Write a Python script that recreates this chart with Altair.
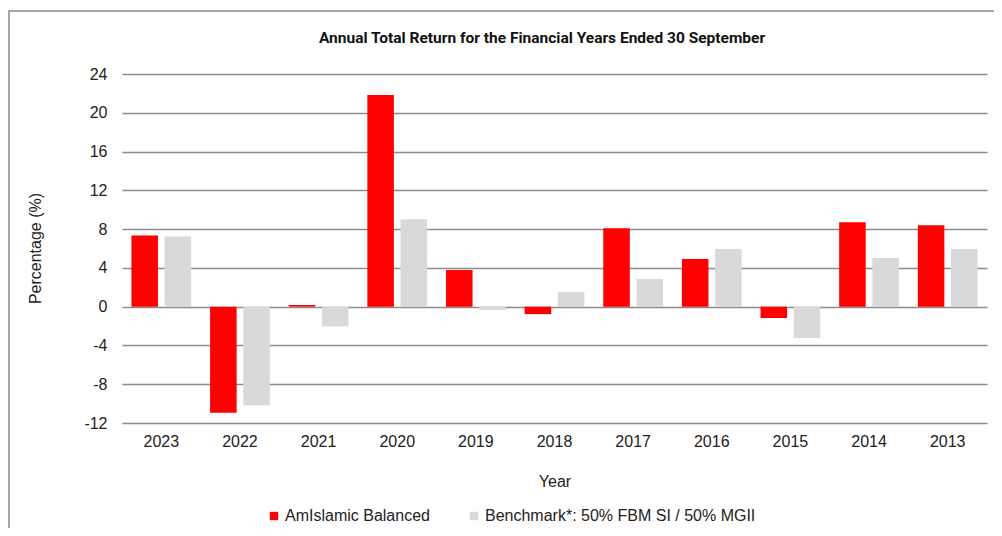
import altair as alt
import pandas as pd

years = ["2023", "2022", "2021", "2020", "2019", "2018", "2017", "2016", "2015", "2014", "2013"]
fund = [7.35, -10.95, 0.17, 21.83, 3.78, -0.77, 8.1, 4.91, -1.17, 8.72, 8.41]
bench = [7.24, -10.16, -2.03, 9.03, -0.34, 1.51, 2.85, 5.94, -3.23, 5.01, 5.94]
series = ["AmIslamic Balanced", "Benchmark*: 50% FBM SI / 50% MGII"]
colors = ["#FF0000", "#D9D9D9"]
yticks = [-12, -8, -4, 0, 4, 8, 12, 16, 20, 24]
title_text = "Annual Total Return for the Financial Years Ended 30 September"

rows = []
for i, y in enumerate(years):
    rows.append({"Year": y, "Series": series[0], "Value": fund[i]})
    rows.append({"Year": y, "Series": series[1], "Value": bench[i]})
df = pd.DataFrame(rows)

FONT = "Liberation Sans"

bars = alt.Chart(df).mark_bar().encode(
    x=alt.X("Year:N", sort=years,
            scale=alt.Scale(paddingInner=0.24, paddingOuter=0.12),
            axis=alt.Axis(title="Year", labelAngle=0, ticks=False, domain=False,
                          labelPadding=10, titlePadding=24, grid=False)),
    xOffset=alt.XOffset("Series:N", sort=series, scale=alt.Scale(paddingInner=0.2)),
    y=alt.Y("Value:Q", scale=alt.Scale(domain=[-12, 24], nice=False, zero=False),
            axis=alt.Axis(title="Percentage (%)", values=yticks, ticks=False, domain=False,
                          labelPadding=15, grid=True, gridColor="#8c8c8c", gridWidth=1.5,
                          labelExpr="'' + datum.value",
                          titleX=-87, titleY=174, titleBaseline="middle", titleAngle=-90)),
    color=alt.Color("Series:N", sort=series,
                    scale=alt.Scale(domain=series, range=colors),
                    legend=alt.Legend(title=None, orient="none", direction="horizontal",
                                      legendX=144, legendY=434, symbolType="square",
                                      symbolSize=70, symbolStrokeWidth=0, labelFontSize=16,
                                      labelFont=FONT, labelColor="#222", columnPadding=36,
                                      labelOffset=3, labelLimit=0)),
)

border = alt.Chart(pd.DataFrame({"a": [0]})).mark_rect(
    fill=None, stroke="#888888", strokeWidth=1.5
).encode(x=alt.value(-113), x2=alt.value(1000), y=alt.value(-63), y2=alt.value(600))

title = alt.Chart(pd.DataFrame({"t": [title_text]})).mark_text(
    font="Roboto", fontSize=15.5, fontWeight="bold", color="#111",
    align="center", baseline="middle"
).encode(text="t:N", x=alt.value(420), y=alt.value(-36))

chart = alt.layer(border, bars, title).properties(
    width=865, height=349,
    padding={"left": 114, "top": 66, "right": 7, "bottom": 105},
    autosize=alt.AutoSizeParams(type="none"),
).configure_view(stroke=None).configure_axis(
    labelFont=FONT, titleFont=FONT, labelFontSize=16, titleFontSize=16,
    labelColor="#222", titleColor="#222", titleFontWeight="normal"
)

chart.save("out.html", embed_options={"renderer": "svg", "actions": False})
